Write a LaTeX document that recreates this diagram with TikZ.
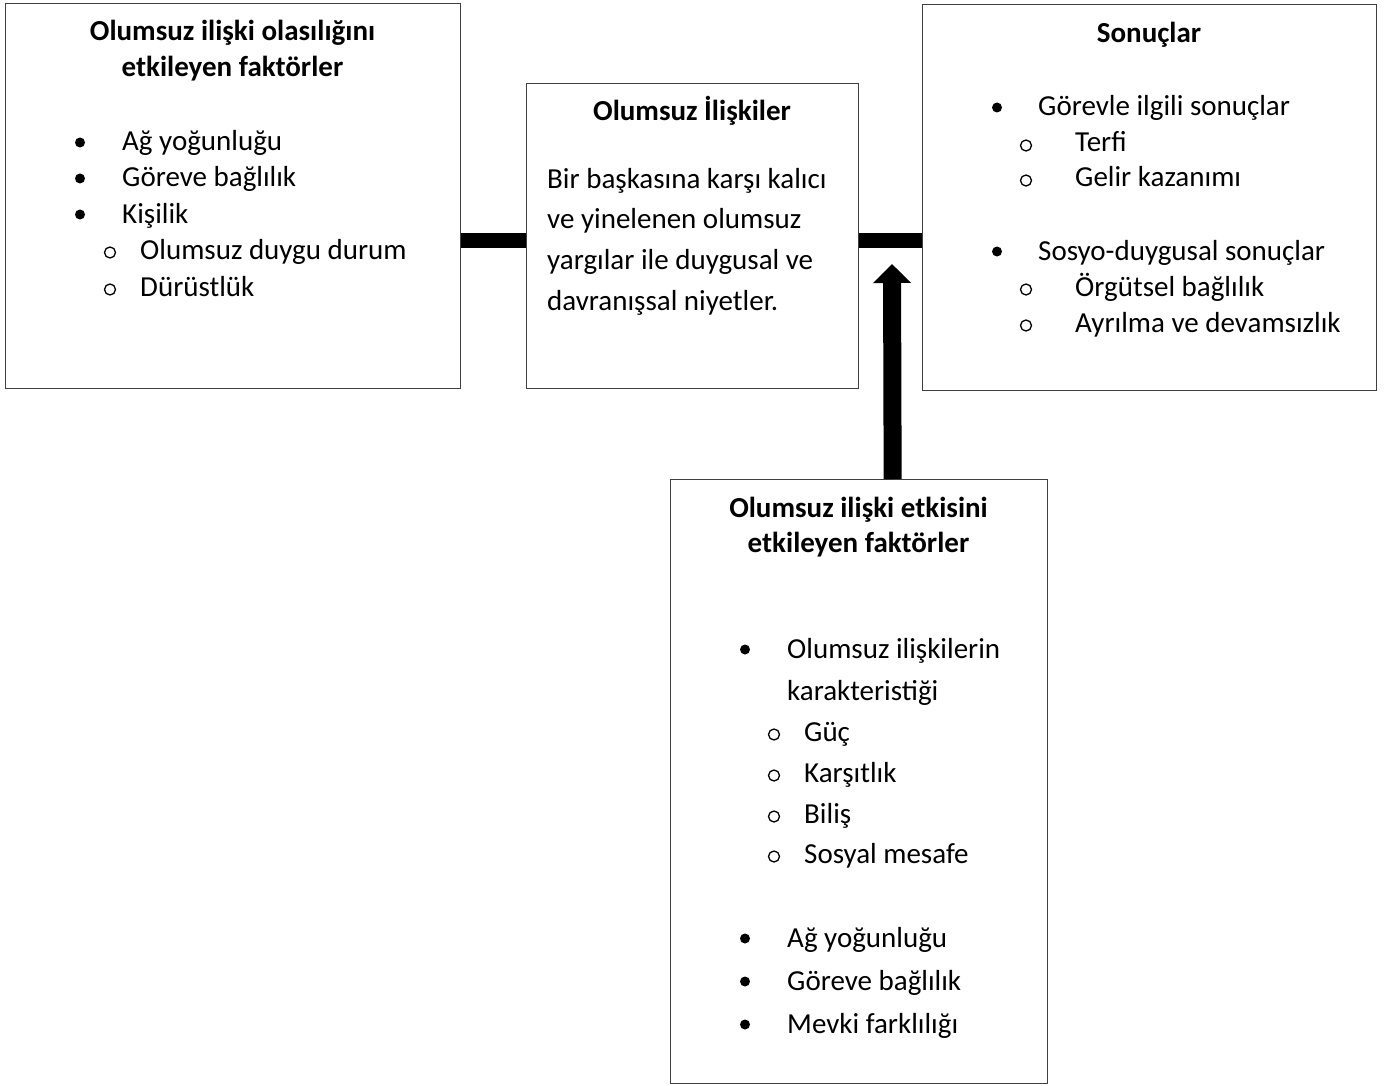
\documentclass[tikz,border=0pt]{standalone}
\usepackage{fontspec}
\setmainfont{Carlito}
\usetikzlibrary{arrows.meta}

% bullet list helpers: name, marker x, text x, baseline y, text
\newcommand\bitem[5]{%
  \node[dot] (#1m) at (#2,#4-8.5) {};
  \node[txt] (#1) at (#3,#4) {#5};}
\newcommand\oitem[5]{%
  \node[ring] (#1m) at (#2,#4-6.5) {};
  \node[txt] (#1) at (#3,#4) {#5};}

\begin{document}
\begin{tikzpicture}[x=1pt,y=-1pt,
  box/.style={draw=black!75,line width=1.3pt,rectangle,inner sep=0pt,anchor=north west},
  txt/.style={anchor=base west,inner sep=0pt,font=\fontsize{29}{35}\selectfont},
  ttl/.style={anchor=base,inner sep=0pt,font=\fontsize{29}{35}\selectfont\bfseries},
  dot/.style={circle,fill=black,inner sep=0pt,minimum size=10pt},
  ring/.style={circle,draw=black,line width=1.3pt,inner sep=0pt,minimum size=11pt},
  bar/.style={line width=15pt,black},
  uparrow/.style={line width=18pt,black,-{Triangle[width=37pt,length=19pt]}}
]
\useasboundingbox (0,0) rectangle (1397,1086);

% frames
\node[box,minimum width=455pt,minimum height=385pt] (A) at (5,3) {};
\node[box,minimum width=332pt,minimum height=305pt] (B) at (526,83) {};
\node[box,minimum width=454pt,minimum height=386pt] (C) at (922,4) {};
\node[box,minimum width=377pt,minimum height=604pt] (D) at (670,479) {};

% left frame
\node[ttl] (At1) at (232.5,41) {Olumsuz ilişki olasılığını};
\node[ttl] (At2) at (232.5,77) {etkileyen faktörler};
\bitem{a1}{80}{122}{151}{Ağ yoğunluğu}
\bitem{a2}{80}{122}{187}{Göreve bağlılık}
\bitem{a3}{80}{122}{223}{Kişilik}
\oitem{a4}{110}{140}{259}{Olumsuz duygu durum}
\oitem{a5}{110}{140}{296}{Dürüstlük}

% middle frame
\node[ttl] (Bt) at (692,121) {Olumsuz İlişkiler};
\node[txt] (b1) at (547,189) {Bir başkasına karşı kalıcı};
\node[txt] (b2) at (547,229) {ve yinelenen olumsuz};
\node[txt] (b3) at (547,269) {yargılar ile duygusal ve};
\node[txt] (b4) at (547,310) {davranışsal niyetler.};

% right frame
\node[ttl] (Ct) at (1149,43) {Sonuçlar};
\bitem{c1}{997}{1038}{116}{Görevle ilgili sonuçlar}
\oitem{c2}{1026}{1075}{152}{Terfi}
\oitem{c3}{1026}{1075}{187}{Gelir kazanımı}
\bitem{c4}{997}{1038}{260}{Sosyo-duygusal sonuçlar}
\oitem{c5}{1026}{1075}{296}{Örgütsel bağlılık}
\oitem{c6}{1026}{1075}{332}{Ayrılma ve devamsızlık}

% bottom frame
\node[ttl] (Dt1) at (858.5,517) {Olumsuz ilişki etkisini};
\node[ttl] (Dt2) at (858.5,552) {etkileyen faktörler};
\bitem{d1}{745}{787}{658}{Olumsuz ilişkilerin}
\node[txt] (d1b) at (787,700) {karakteristiği};
\oitem{d2}{774}{804}{741}{Güç}
\oitem{d3}{774}{804}{782}{Karşıtlık}
\oitem{d4}{774}{804}{823}{Biliş}
\oitem{d5}{774}{804}{863}{Sosyal mesafe}
\bitem{d6}{745}{787}{947}{Ağ yoğunluğu}
\bitem{d7}{745}{787}{990}{Göreve bağlılık}
\bitem{d8}{745}{787}{1033}{Mevki farklılığı}

% connectors
\draw[bar] ([yshift=-4pt]B.west) -- ([yshift=-4pt]B.west -| A.east);
\draw[bar] ([yshift=-4pt]B.east) -- ([yshift=-4pt]B.east -| C.west);
\coordinate (tip) at (892,264);
\draw[uparrow] ([xshift=33.5pt]D.north) -- (tip);
\end{tikzpicture}
\end{document}
